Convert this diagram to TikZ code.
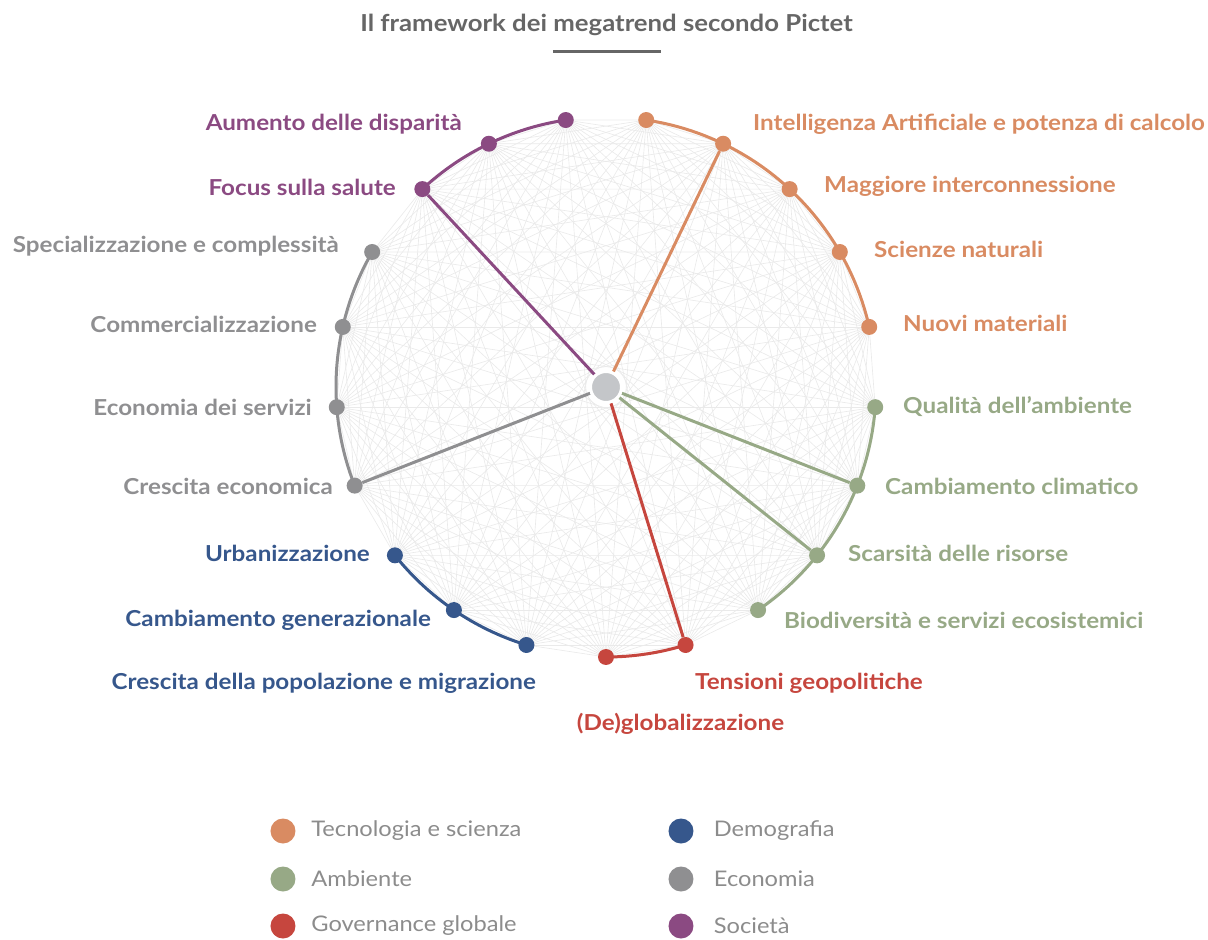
\documentclass[tikz,border=0pt]{standalone}
\usepackage{fontspec}
\setmainfont{Lato}[FakeStretch=1.1]
\usetikzlibrary{positioning, backgrounds}

\definecolor{tech}{HTML}{D98B62}
\definecolor{env}{HTML}{97A986}
\definecolor{gov}{HTML}{C6463E}
\definecolor{demo}{HTML}{36578C}
\definecolor{econ}{HTML}{8F8F91}
\definecolor{soc}{HTML}{8B4A82}
\definecolor{hubgray}{HTML}{C4C6C9}
\definecolor{webgray}{HTML}{EAEAEA}
\definecolor{titlegray}{HTML}{666666}
\definecolor{legendgray}{HTML}{8C8C8C}

\begin{document}
\begin{tikzpicture}[
    x=1pt, y=1pt,
    trenddot/.style={circle, inner sep=0pt, minimum size=16pt},
    hub/.style={circle, inner sep=0pt, minimum size=31pt, fill=hubgray, draw=white, line width=3pt},
    spoke/.style={line width=3pt},
    rim/.style={line width=3pt},
    web/.style={draw=webgray, line width=0.65pt},
    trend/.style={font=\fontsize{22}{26}\selectfont\bfseries, inner sep=0pt},
    legdot/.style={circle, inner sep=0pt, minimum size=25pt},
    legtext/.style={font=\fontsize{21.5}{25}\selectfont, text=legendgray, inner sep=0pt}
]
\useasboundingbox (-606,-553) rectangle (602,387);

% Title
\node[font=\fontsize{23.4}{28}\selectfont\bfseries, text=titlegray] (title) at (0.5,362) {Il framework dei megatrend secondo Pictet};
\coordinate (barL) at (-53,335);
\coordinate (barR) at (55,335);
\draw[titlegray, line width=3pt] (barL) -- (barR);

% Hub and the 21 megatrends on the circle
\node[hub] (c) at (0,0) {};
\foreach \k/\col in {0/tech,1/tech,2/tech,3/tech,4/tech,5/env,6/env,7/env,8/env,9/gov,10/gov,
                     11/demo,12/demo,13/demo,14/econ,15/econ,16/econ,17/econ,18/soc,19/soc,20/soc}
  \node[trenddot, fill=\col] (p\k) at ({81.4286-17.1429*\k}:270) {};

\begin{scope}[on background layer]
% Web between all points
\foreach \i in {0,...,19} {
  \pgfmathtruncatemacro\nxt{\i+1}
  \foreach \j in {\nxt,...,20}
    \draw[web] (p\i.center) -- (p\j.center);
}
% Arcs per theme
\draw[rim, tech] (p0.center) arc[start angle=81.4286, end angle=12.8570, radius=270pt];
\draw[rim, env]  (p5.center) arc[start angle=-4.2859, end angle=-55.7146, radius=270pt];
\draw[rim, gov]  (p9.center) arc[start angle=-72.8575, end angle=-90.0004, radius=270pt];
\draw[rim, demo] (p11.center) arc[start angle=-107.1433, end angle=-141.4291, radius=270pt];
\draw[rim, econ] (p14.center) arc[start angle=-158.5720, end angle=-209.9998, radius=270pt];
\draw[rim, soc]  (p18.center) arc[start angle=-227.1436, end angle=-261.4294, radius=270pt];
% Spokes
\draw[spoke, tech] (c) -- (p1);
\draw[spoke, env]  (c) -- (p6);
\draw[spoke, env]  (c) -- (p7);
\draw[spoke, gov]  (c) -- (p9);
\draw[spoke, econ] (c) -- (p14);
\draw[spoke, soc]  (c) -- (p18);
\end{scope}

% Labels, right side
\node[trend, text=tech, anchor=west] (l1) at (147,263) {Intelligenza Artificiale e potenza di calcolo};
\node[trend, text=tech, anchor=west] (l2) at (218,201) {Maggiore interconnessione};
\node[trend, text=tech, anchor=west] (l3) at (268,138) {Scienze naturali};
\node[trend, text=tech, anchor=west] (l4) at (297,64) {Nuovi materiali};
\node[trend, text=env, anchor=west] (l5) at (297,-20) {Qualità dell’ambiente};
\node[trend, text=env, anchor=west] (l6) at (279,-99) {Cambiamento climatico};
\node[trend, text=env, anchor=west] (l7) at (242,-166) {Scarsità delle risorse};
\node[trend, text=env, anchor=west] (l8) at (178,-233) {Biodiversità e servizi ecosistemici};
\node[trend, text=gov, anchor=west] (l9) at (89,-296) {Tensioni geopolitiche};
\node[trend, text=gov] (l10) at (74.5,-337) {(De)globalizzazione};

% Labels, left side
\node[trend, text=demo, anchor=east] (l11) at (-70,-296) {Crescita della popolazione e migrazione};
\node[trend, text=demo, anchor=east] (l12) at (-175,-233) {Cambiamento generazionale};
\node[trend, text=demo, anchor=east] (l13) at (-236,-166) {Urbanizzazione};
\node[trend, text=econ, anchor=east] (l14) at (-273,-99) {Crescita economica};
\node[trend, text=econ, anchor=east] (l15) at (-294,-20) {Economia dei servizi};
\node[trend, text=econ, anchor=east] (l16) at (-289,63) {Commercializzazione};
\node[trend, text=econ, anchor=east] (l17) at (-267,141) {Specializzazione e complessità};
\node[trend, text=soc, anchor=east] (l18) at (-210,200) {Focus sulla salute};
\node[trend, text=soc, anchor=east] (l19) at (-144,263) {Aumento delle disparità};

% Legend
\node[legdot, fill=tech] (g1) at (-323,-444) {};
\node[legdot, fill=env]  (g2) at (-323,-492) {};
\node[legdot, fill=gov]  (g3) at (-323,-539) {};
\node[legdot, fill=demo] (g4) at (75,-444) {};
\node[legdot, fill=econ] (g5) at (75,-492) {};
\node[legdot, fill=soc]  (g6) at (75,-539) {};
\node[legtext, right=15.5pt of g1] {Tecnologia e scienza};
\node[legtext, right=15.5pt of g2] {Ambiente};
\node[legtext, right=15.5pt of g3] {Governance globale};
\node[legtext, right=20pt of g4] {Demografia};
\node[legtext, right=20pt of g5] {Economia};
\node[legtext, right=20pt of g6] {Società};

\end{tikzpicture}
\end{document}
